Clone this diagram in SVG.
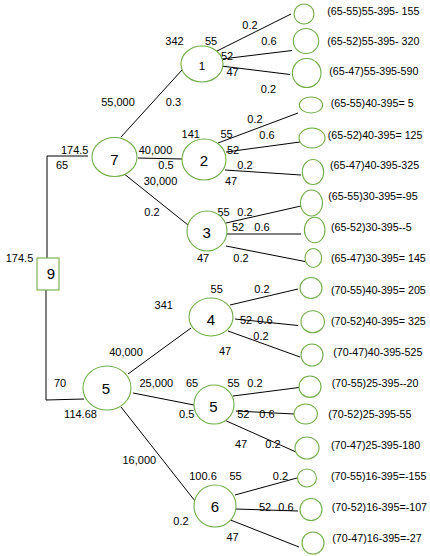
<svg xmlns="http://www.w3.org/2000/svg" width="430" height="556" viewBox="0 0 430 556">
<style>
.n{fill:#fff;stroke:#70AD47;stroke-width:1.1}
.c{stroke:#000;stroke-width:1;fill:none}
text{font-family:"Liberation Sans",Arial,sans-serif;fill:#000}
.s{font-size:11px;text-anchor:middle}
.l{font-size:10.7px}
.b{font-size:15px;text-anchor:middle}
</style>
<rect width="430" height="556" fill="#fff"/>
<g id="connectors">
<polyline class="c" points="88,156 47,156 47,258"/>
<polyline class="c" points="46,290 46,400 84,399"/>
<line class="c" x1="182" y1="70" x2="121" y2="137"/>
<line class="c" x1="138" y1="158" x2="182" y2="159"/>
<line class="c" x1="123" y1="173" x2="188" y2="225"/>
<line class="c" x1="128" y1="374" x2="191" y2="328"/>
<line class="c" x1="133" y1="393" x2="194" y2="405"/>
<line class="c" x1="121" y1="407" x2="195" y2="501"/>
<line class="c" x1="217" y1="51" x2="291" y2="14"/>
<line class="c" x1="222" y1="59" x2="292" y2="50.5"/>
<line class="c" x1="221" y1="66" x2="290" y2="74.5"/>
<line class="c" x1="218" y1="143" x2="298" y2="113"/>
<line class="c" x1="226" y1="152" x2="300" y2="142"/>
<line class="c" x1="225" y1="170" x2="301" y2="175"/>
<line class="c" x1="226" y1="223" x2="301" y2="206"/>
<line class="c" x1="227" y1="234" x2="301" y2="234"/>
<line class="c" x1="226" y1="246" x2="305" y2="261.5"/>
<line class="c" x1="230" y1="305" x2="298" y2="289"/>
<line class="c" x1="235" y1="319" x2="298" y2="325.5"/>
<line class="c" x1="228" y1="331" x2="300" y2="357"/>
<line class="c" x1="233" y1="396" x2="299" y2="387.5"/>
<line class="c" x1="236" y1="411" x2="294" y2="414"/>
<line class="c" x1="222" y1="419" x2="296" y2="452"/>
<line class="c" x1="235" y1="495" x2="297" y2="478"/>
<line class="c" x1="236" y1="509" x2="298" y2="511"/>
<line class="c" x1="228" y1="519" x2="299" y2="547"/>
</g>
<g id="edge-labels" class="s">
<text x="74.7" y="154">174.5</text>
<text x="62" y="169">65</text>
<text x="19.5" y="262">174.5</text>
<text x="118" y="106">55,000</text>
<text x="173.5" y="106">0.3</text>
<text x="155.5" y="154">40,000</text>
<text x="166" y="169">0.5</text>
<text x="160.5" y="185">30,000</text>
<text x="152" y="216">0.2</text>
<text x="174.5" y="45">342</text>
<text x="211" y="45">55</text>
<text x="250" y="29">0.2</text>
<text x="269" y="45">0.6</text>
<text x="227" y="60">52</text>
<text x="232.5" y="76">47</text>
<text x="268.5" y="92.5">0.2</text>
<text x="190.7" y="138">141</text>
<text x="226.5" y="138">55</text>
<text x="255" y="123">0.2</text>
<text x="267" y="138.5">0.6</text>
<text x="233" y="154">52</text>
<text x="245" y="169">0.2</text>
<text x="231" y="185">47</text>
<text x="223.5" y="216">55</text>
<text x="245" y="216">0.2</text>
<text x="238" y="231">52</text>
<text x="262" y="231">0.6</text>
<text x="203" y="261.5">47</text>
<text x="241" y="261.5">0.2</text>
<text x="60" y="386.5">70</text>
<text x="80.5" y="417.5">114.68</text>
<text x="126" y="355.5">40,000</text>
<text x="156.3" y="386.5">25,000</text>
<text x="139.3" y="463.5">16,000</text>
<text x="163.7" y="309">341</text>
<text x="216.7" y="293">55</text>
<text x="262" y="293">0.2</text>
<text x="246" y="324">52</text>
<text x="265" y="324">0.6</text>
<text x="261" y="339.5">0.2</text>
<text x="225" y="355">47</text>
<text x="192" y="386.5">65</text>
<text x="233.5" y="387">55</text>
<text x="255" y="387">0.2</text>
<text x="186.7" y="418">0.5</text>
<text x="243.3" y="418">52</text>
<text x="267" y="418">0.6</text>
<text x="241" y="448">47</text>
<text x="273" y="448">0.2</text>
<text x="203" y="480">100.6</text>
<text x="235.5" y="480">55</text>
<text x="280.5" y="480">0.2</text>
<text x="265" y="511">52</text>
<text x="286" y="511">0.6</text>
<text x="181" y="525">0.2</text>
<text x="232.5" y="541">47</text>
</g>
<g id="node9"><rect class="n" x="37" y="258" width="22" height="32"/><text class="b" x="51" y="279">9</text></g>
<g id="node7"><ellipse class="n" cx="114.5" cy="157" rx="22.5" ry="19.5"/><text class="b" x="114.5" y="165">7</text></g>
<g id="node1"><ellipse class="n" cx="202" cy="64" rx="21" ry="18"/><text class="s" x="202" y="69.5" style="font-size:11.5px">1</text></g>
<g id="node2"><ellipse class="n" cx="204" cy="159.5" rx="22" ry="20.5"/><text class="b" x="204" y="165.5">2</text></g>
<g id="node3"><ellipse class="n" cx="207" cy="231" rx="20" ry="20"/><text class="b" x="206.7" y="238">3</text></g>
<g id="node5"><ellipse class="n" cx="107" cy="388" rx="24" ry="22"/><text class="b" x="106" y="393.5">5</text></g>
<g id="node4"><ellipse class="n" cx="211" cy="317" rx="22" ry="19"/><text class="b" x="211" y="325">4</text></g>
<g id="node5b"><ellipse class="n" cx="214" cy="404.5" rx="20" ry="19.5"/><text class="b" x="213.3" y="412">5</text></g>
<g id="node6"><ellipse class="n" cx="215" cy="506" rx="21" ry="21"/><text class="b" x="215" y="512">6</text></g>
<g id="leaf1"><ellipse class="n" cx="304" cy="14" rx="10" ry="10"/><text class="l" x="327.3" y="14.5">(65-55)55-395- 155</text></g>
<g id="leaf2"><ellipse class="n" cx="306" cy="41" rx="12.7" ry="12.5"/><text class="l" x="327.3" y="44.5">(65-52)55-395- 320</text></g>
<g id="leaf3"><ellipse class="n" cx="306.7" cy="73" rx="14.3" ry="14.5"/><text class="l" x="329.3" y="75">(65-47)55-395-590</text></g>
<g id="leaf4"><ellipse class="n" cx="311" cy="105" rx="11.7" ry="8"/><text class="l" x="330.7" y="107">(65-55)40-395= 5</text></g>
<g id="leaf5"><ellipse class="n" cx="312" cy="138" rx="13" ry="10"/><text class="l" x="327.7" y="138.5">(65-52)40-395= 125</text></g>
<g id="leaf6"><ellipse class="n" cx="313" cy="172" rx="10.7" ry="12.5"/><text class="l" x="330" y="168.5">(65-47)40-395-325</text></g>
<g id="leaf7"><ellipse class="n" cx="311.5" cy="203" rx="11" ry="13"/><text class="l" x="328.3" y="200">(65-55)30-395=-95</text></g>
<g id="leaf8"><ellipse class="n" cx="314.7" cy="230" rx="10.3" ry="12.7"/><text class="l" x="331" y="231">(65-52)30-395--5</text></g>
<g id="leaf9"><ellipse class="n" cx="313.3" cy="258" rx="8.3" ry="9.5"/><text class="l" x="331" y="262">(65-47)30-395= 145</text></g>
<g id="leaf10"><ellipse class="n" cx="311" cy="288" rx="11" ry="10.5"/><text class="l" x="331" y="293.5">(70-55)40-395= 205</text></g>
<g id="leaf11"><ellipse class="n" cx="312.7" cy="321.7" rx="11.7" ry="11"/><text class="l" x="331" y="325">(70-52)40-395= 325</text></g>
<g id="leaf12"><ellipse class="n" cx="312" cy="355" rx="11" ry="11"/><text class="l" x="333.3" y="356">(70-47)40-395-525</text></g>
<g id="leaf13"><ellipse class="n" cx="310" cy="386.7" rx="11" ry="10.7"/><text class="l" x="331.7" y="387">(70-55)25-395--20</text></g>
<g id="leaf14"><ellipse class="n" cx="305.7" cy="414" rx="11.7" ry="10"/><text class="l" x="328.3" y="418">(70-52)25-395-55</text></g>
<g id="leaf15"><ellipse class="n" cx="307" cy="448" rx="12" ry="11"/><text class="l" x="331" y="448.5">(70-47)25-395-180</text></g>
<g id="leaf16"><ellipse class="n" cx="307" cy="478" rx="9.5" ry="9"/><text class="l" x="331" y="480">(70-55)16-395=-155</text></g>
<g id="leaf17"><ellipse class="n" cx="311" cy="509.5" rx="11" ry="11"/><text class="l" x="331.7" y="511">(70-52)16-395=-107</text></g>
<g id="leaf18"><ellipse class="n" cx="313" cy="543" rx="11" ry="11"/><text class="l" x="332.3" y="542">(70-47)16-395=-27</text></g>
</svg>
